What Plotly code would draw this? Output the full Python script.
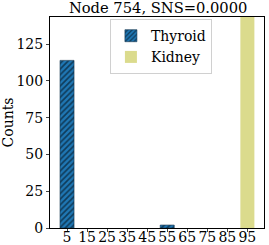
import plotly.graph_objects as go

bins = [5, 15, 25, 35, 45, 55, 65, 75, 85, 95]
tick_labels = ["5", "15", "25", "35", "45", "55", "65", "75", "85", "95"]
thyroid = [114, 0, 0, 0, 0, 2, 0, 0, 0, 0]
kidney = [0, 0, 0, 0, 0, 0, 0, 0, 0, 150]

font = "DejaVu Serif"
fig = go.Figure()
fig.add_trace(go.Bar(x=bins, y=thyroid, name="Thyroid", width=7,
                     marker=dict(color="#1f77b4",
                                 line=dict(width=[0.6 if v > 0 else 0 for v in thyroid], color="#10304a"),
                                 pattern=dict(shape="/", fgcolor="black", bgcolor="#1f77b4", size=4, solidity=0.4))))
fig.add_trace(go.Bar(x=bins, y=kidney, name="Kidney", width=7,
                     marker=dict(color="#dbdb8d", line=dict(width=0))))
fig.update_layout(
    width=269, height=245, barmode="overlay",
    margin=dict(l=50, r=5, t=17, b=17, autoexpand=False),
    paper_bgcolor="white", plot_bgcolor="white",
    font=dict(family=font, size=14, color="black"),
    title=dict(text="Node 754, SNS=0.0000", x=0.588, xanchor="center", y=0.967, yanchor="middle",
               font=dict(family=font, size=14.7)),
    legend=dict(x=0.28, y=0.99, xanchor="left", yanchor="top", bgcolor="white",
                bordercolor="#d0d0d0", borderwidth=1, font=dict(size=14)),
    xaxis=dict(range=[-3.5, 103.3], tickvals=bins, ticktext=tick_labels, showgrid=False,
               showline=True, linecolor="black", mirror=True, ticks="outside", ticklen=3,
               tickfont=dict(size=14), zeroline=False, automargin=False, ticklabelstandoff=-7),
    yaxis=dict(range=[0, 143.5], tickvals=[0, 25, 50, 75, 100, 125], showgrid=False,
               showline=True, linecolor="black", mirror=True, ticks="outside", ticklen=3,
               tickfont=dict(size=14), zeroline=False, automargin=False,
               title=dict(text="Counts", font=dict(size=14), standoff=0)),
)
fig.write_html("out.html", config={"displayModeBar": False},
               post_script="document.body.style.margin='0';")
